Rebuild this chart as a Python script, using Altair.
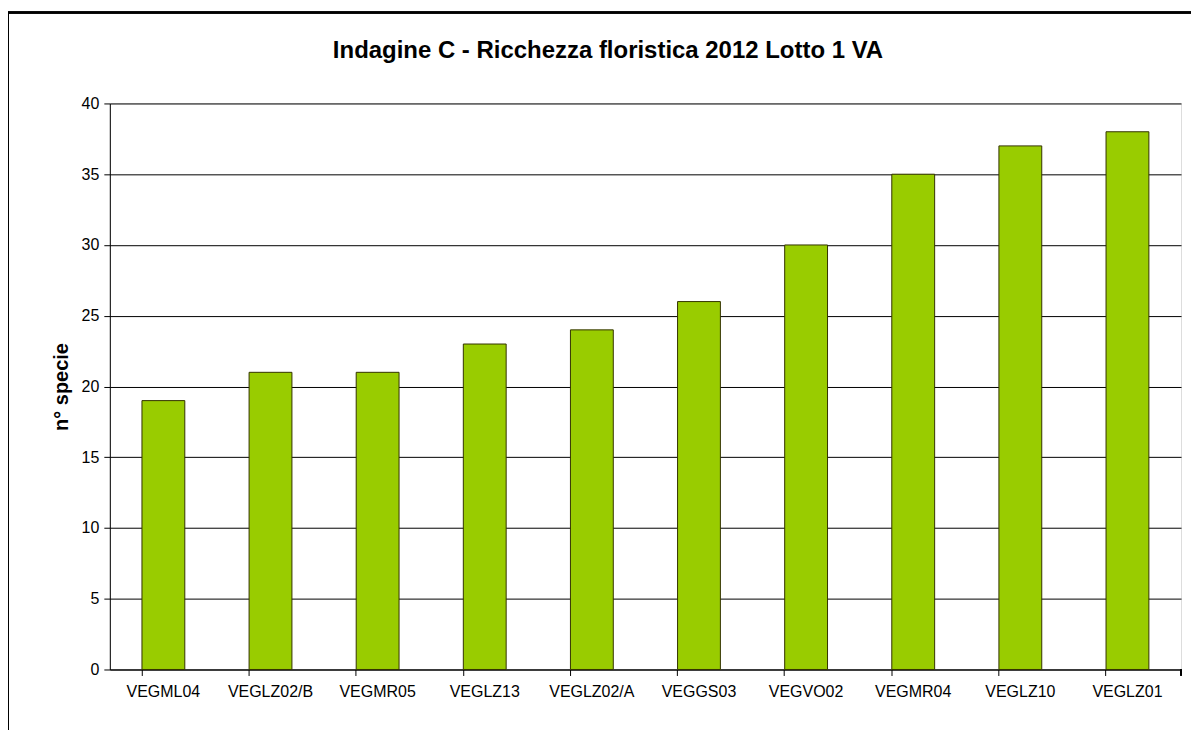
import altair as alt
import pandas as pd

categories = ["VEGML04", "VEGLZ02/B", "VEGMR05", "VEGLZ13", "VEGLZ02/A",
              "VEGGS03", "VEGVO02", "VEGMR04", "VEGLZ10", "VEGLZ01"]
values = [19, 21, 21, 23, 24, 26, 30, 35, 37, 38]
title_text = "Indagine C - Ricchezza floristica 2012 Lotto 1 VA"

df = pd.DataFrame({"cat": categories, "n": values})

W, H = 1073, 567
FONT = "Liberation Sans"

bars = alt.Chart(df).mark_bar(
    color="#99CC00", stroke="#333300", strokeWidth=1
).encode(
    x=alt.X("cat:N", sort=categories, title=None,
            scale=alt.Scale(paddingInner=0.6, paddingOuter=0.3),
            axis=alt.Axis(bandPosition=0, labelAngle=0, labelFontSize=16,
                          labelColor="black", labelFont=FONT, labelPadding=8,
                          tickColor="black", tickSize=6, domainColor="black",
                          grid=False)),
    y=alt.Y("n:Q", title="n° specie",
            scale=alt.Scale(domain=[0, 40]),
            axis=alt.Axis(values=list(range(0, 41, 5)), labelFontSize=16,
                          labelColor="black", labelFont=FONT, labelPadding=5,
                          tickColor="black", tickSize=6, domainColor="black",
                          gridColor="black", gridWidth=1,
                          titleFont=FONT, titleFontSize=20, titleFontWeight="bold",
                          titleColor="black", titlePadding=10)),
)

end_tick = alt.Chart(df).mark_rule(color="black").encode(
    x=alt.value(W), y=alt.value(H), y2=alt.value(H + 6)
)

frame = alt.Chart(df).mark_rect(fill=None, stroke="black", strokeWidth=1.5).encode(
    x=alt.value(-102), y=alt.value(-91), x2=alt.value(W + 60), y2=alt.value(H + 200)
)

title = alt.Chart(pd.DataFrame({"t": [title_text]})).mark_text(
    font=FONT, fontSize=24, fontWeight="bold", color="black",
    align="center", baseline="alphabetic"
).encode(
    text="t:N", x=alt.value(499), y=alt.value(-46)
)

chart = alt.layer(frame, bars, end_tick, title).properties(
    width=W, height=H,
    padding={"left": 102, "top": 95, "right": 10, "bottom": 60},
    autosize=alt.AutoSizeParams(type="none"),
).configure_view(stroke="#808080", strokeWidth=1).configure(background="white")

chart.save("out.html", embed_options={"renderer": "svg", "actions": False})
